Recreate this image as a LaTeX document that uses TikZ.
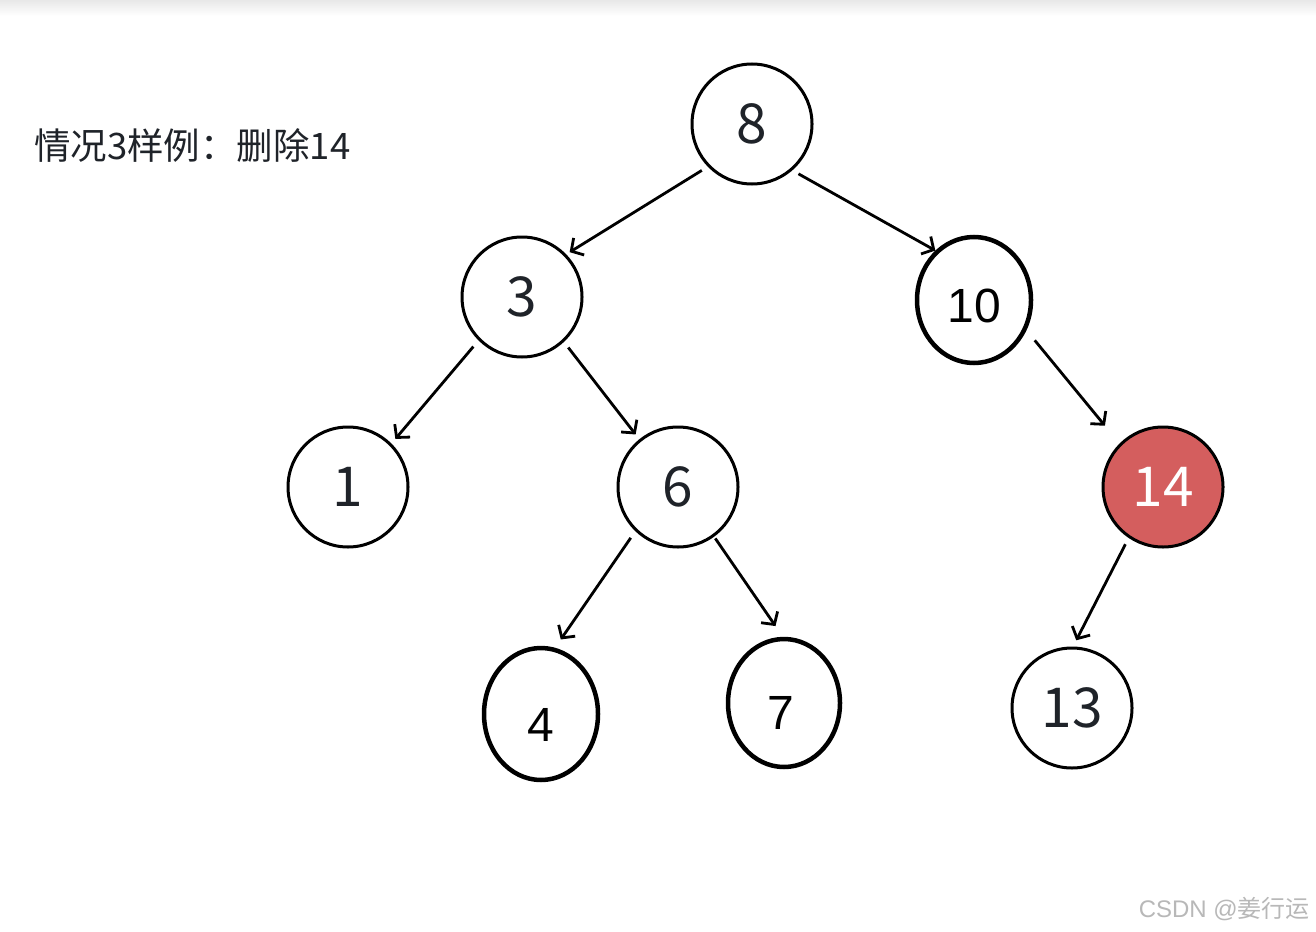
\documentclass[tikz,border=0pt]{standalone}
\usepackage{fontspec}
\newfontfamily\cjk{Noto Sans CJK SC}
\newfontfamily\arial{Liberation Sans}
\usetikzlibrary{arrows.meta,shapes.geometric}
\definecolor{ink}{HTML}{1F2329}
\definecolor{redfill}{RGB}{212,94,94}
\begin{document}
\begin{tikzpicture}[x=1pt,y=-1pt,
  cnode/.style={circle,draw=black,line width=3pt,minimum size=120pt,inner sep=0pt,
    font=\cjk\fontsize{55}{55}\selectfont,text=ink},
  enode/.style={ellipse,draw=black,line width=4.5pt,inner sep=0pt},
  elabel/.style={font=\arial\fontsize{48}{48}\selectfont,text=black,inner sep=0pt},
  arr/.style={line width=2.8pt,-{Straight Barb[length=9pt,width=20pt]}}
]
\useasboundingbox (0,0) rectangle (1316,931);
\fill[white] (0,0) rectangle (1316,931);
\shade[top color=black!9,bottom color=white] (0,0) rectangle (1316,16);

\node[anchor=west,font=\cjk\fontsize{36.5}{36.5}\selectfont,text=ink,inner sep=0pt] (title) at (34,146) {情况3样例：删除14};

\node[cnode] (n8) at (752,124) {8};
\node[cnode] (n3) at (522,297) {3};
\node[enode,minimum width=114pt,minimum height=126pt,
  label={[elabel,shift={(0,6)}]center:10}] (n10) at (974,300) {};
\node[cnode] (n1) at (348,487) {1};
\node[cnode] (n6) at (678,487) {6};
\node[cnode,fill=redfill,text=white] (n14) at (1163,487) {14};
\node[enode,minimum width=114pt,minimum height=132pt,
  label={[elabel,shift={(0,11)}]center:4}] (n4) at (541,714) {};
\node[enode,minimum width=112pt,minimum height=128pt,
  label={[elabel,shift={(-3,10)}]center:7}] (n7) at (784,703) {};
\node[cnode] (n13) at (1072,708) {13};

\draw[arr,shorten <=7pt,shorten >=4pt] (n8.224) -- (n3.44);
\draw[arr,shorten <=7pt] (n8.311) -- (n10.128);
\draw[arr,shorten <=8pt,shorten >=6pt] (n3.225) -- (n1.45);
\draw[arr,shorten <=7pt,shorten >=6pt] (n3.313) -- (n6.129);
\draw[arr,shorten <=13pt,shorten >=23pt] (n10.330) -- (n14.135);
\draw[arr,shorten <=8pt,shorten >=10pt] (n6.226) -- (n4.78);
\draw[arr,shorten <=2pt,shorten >=13pt] (n6.306.5) -- (n7.91);
\draw[arr,shorten <=7pt,shorten >=7pt] (n14.236.5) -- (n13.89);

\node[anchor=east,inner sep=0pt,text=black!28] (wm) at (1310,909)
  {\arial\fontsize{24}{24}\selectfont CSDN @\cjk 姜行运};
\end{tikzpicture}
\end{document}
